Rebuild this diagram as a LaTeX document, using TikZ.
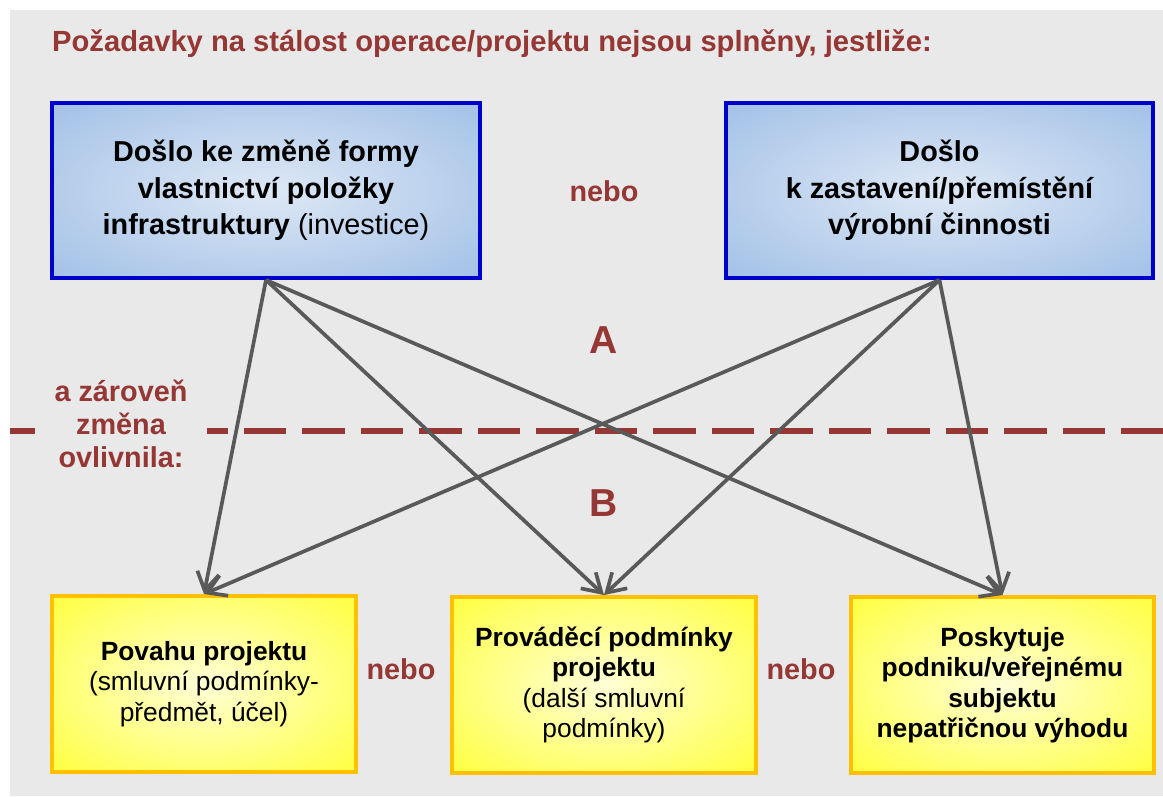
\documentclass[tikz,border=0pt]{standalone}
\usepackage{fontspec}
\setmainfont{Liberation Sans}
\usetikzlibrary{arrows.meta}

\definecolor{pozadi}{RGB}{233,233,233}
\definecolor{cervena}{RGB}{149,55,53}
\definecolor{sipka}{RGB}{89,89,89}
\definecolor{modraokraj}{RGB}{0,0,204}
\definecolor{modrastred}{RGB}{222,232,245}
\definecolor{modravnejsi}{RGB}{141,179,226}
\definecolor{zlutaokraj}{RGB}{255,192,0}
\definecolor{zlutastred}{RGB}{255,255,215}
\definecolor{zlutavnejsi}{RGB}{255,255,10}

\pgfdeclareradialshading{modrystin}{\pgfpoint{0bp}{0bp}}{color(0bp)=(modrastred); color(48bp)=(modravnejsi); color(100bp)=(modravnejsi)}
\pgfdeclareradialshading{zlutystin}{\pgfpoint{0bp}{0bp}}{color(0bp)=(zlutastred); color(48bp)=(zlutavnejsi); color(100bp)=(zlutavnejsi)}

\tikzset{
  modry/.style={draw=modraokraj, line width=2.27pt, shading=modrystin,
    minimum width=8.56cm, minimum height=3.5cm, align=center,
    font=\fontsize{16.4}{20.7}\selectfont\bfseries},
  zluty/.style={draw=zlutaokraj, line width=2.27pt, shading=zlutystin,
    minimum width=6.08cm, minimum height=3.52cm, align=center,
    font=\fontsize{15}{17.3}\selectfont},
  cerveny/.style={text=cervena, align=center, font=\fontsize{16.4}{18.7}\selectfont\bfseries},
  pismeno/.style={text=cervena, font=\fontsize{22.2}{26}\selectfont\bfseries},
  sip/.style={draw=sipka, line width=2.1pt, -{Straight Barb[length=3.6mm,width=4.4mm]}}
}

\begin{document}
\begin{tikzpicture}[x=0.02cm, y=-0.02cm]
    \useasboundingbox (0,0) rectangle (1163,796);
    \fill[pozadi] (10,10) rectangle (1163,796);

    \node[cerveny, anchor=west, font=\fontsize{16.6}{19}\selectfont\bfseries] (nadpis) at (46,44) {Požadavky na stálost operace/projektu nejsou splněny, jestliže:};

    % hranice A / B
    \draw[cervena, line width=3.2pt, dash pattern=on 0.85cm off 0.32cm] (10,431) -- (1163,431);
    \node[cerveny, fill=pozadi, inner xsep=0.4cm] (zaroven) at (121,424) {a zároveň\\změna\\ovlivnila:};

    \node[modry] (vlastnictvi) at (266,190.5) {Došlo ke změně formy\\vlastnictví položky\\infrastruktury \mdseries(investice)};
    \node[modry] (zastaveni) at (939.5,190.5) {Došlo\\k zastavení/přemístění\\výrobní činnosti};
    \node[cerveny] (nebo1) at (604,191) {nebo};

    \node[pismeno] (A) at (604,340) {A};
    \node[pismeno] (B) at (604,503) {B};

    \node[zluty] (povaha) at (204,684) {\textbf{Povahu projektu}\\(smluvní podmínky-\\předmět, účel)};
    \node[zluty] (podminky) at (604,685) {\textbf{Prováděcí podmínky}\\\textbf{projektu}\\(další smluvní\\podmínky)};
    \node[zluty, font=\fontsize{15}{17.3}\selectfont\bfseries] (vyhoda) at (1002.5,685) {Poskytuje\\podniku/veřejnému\\subjektu\\nepatřičnou výhodu};
    \node[cerveny] (nebo2) at (401,669) {nebo};
    \node[cerveny] (nebo3) at (801,669) {nebo};

    \foreach \cil in {povaha,podminky,vyhoda}{
        \draw[sip] (vlastnictvi.south) -- (\cil.north);
        \draw[sip] (zastaveni.south) -- (\cil.north);
    }

\end{tikzpicture}
\end{document}
